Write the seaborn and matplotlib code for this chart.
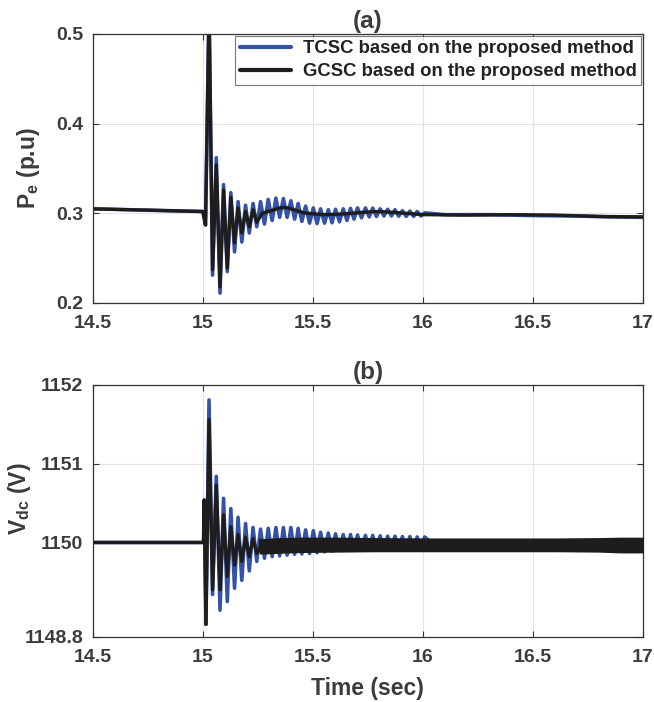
import numpy as np
import pandas as pd
import matplotlib
matplotlib.use("Agg")
import matplotlib.pyplot as plt
import seaborn as sns

# ---------------- data ----------------
# sampling instants of the electromechanical swing extrema (sec)
PEAK_T = [15.028, 15.061, 15.094, 15.127, 15.160, 15.194, 15.228, 15.262, 15.297, 15.332,
          15.366, 15.400, 15.433, 15.467, 15.502, 15.535, 15.570, 15.603, 15.638, 15.671,
          15.703, 15.739, 15.772, 15.806, 15.840, 15.873, 15.907, 15.941, 15.974, 16.008]
TROUGH_T = [15.044, 15.078, 15.111, 15.144, 15.177, 15.211, 15.245, 15.280, 15.315, 15.349,
            15.383, 15.417, 15.450, 15.485, 15.519, 15.553, 15.587, 15.621, 15.655, 15.687,
            15.721, 15.756, 15.789, 15.823, 15.857, 15.890, 15.924, 15.958, 15.991]

# (a) electrical power, p.u.
PRE_T = [14.5, 15.0, 15.012]
PE_PRE = [0.305, 0.302, 0.287]

PE_TCSC_PEAK = [0.53, 0.362, 0.332, 0.323, 0.313, 0.309, 0.311, 0.313, 0.3155, 0.317,
                0.3165, 0.314, 0.311, 0.308, 0.306, 0.305, 0.304, 0.3045, 0.305, 0.3055,
                0.306, 0.306, 0.3058, 0.305, 0.3045, 0.304, 0.303, 0.3025, 0.302, 0.3005]
PE_TCSC_TROUGH = [0.231, 0.211, 0.235, 0.257, 0.268, 0.278, 0.285, 0.288, 0.292, 0.2955,
                  0.2955, 0.2935, 0.291, 0.289, 0.2885, 0.289, 0.2895, 0.2905, 0.292, 0.2935,
                  0.295, 0.296, 0.2965, 0.297, 0.297, 0.2968, 0.2965, 0.2965, 0.297]
PE_TCSC_TAIL_T = [16.1, 16.3, 16.5, 16.7, 16.85, 17.0]
PE_TCSC_TAIL = [0.2985, 0.2985, 0.2975, 0.297, 0.296, 0.2955]

PE_GCSC_PEAK = [0.53, 0.354, 0.326, 0.318, 0.306, 0.302, 0.304]
PE_GCSC_TROUGH = [0.237, 0.218, 0.239, 0.267, 0.278, 0.285, 0.290]
PE_GCSC_TAIL_T = [15.27, 15.31, 15.35, 15.38, 15.42, 15.46, 15.5, 15.55, 15.6, 15.65,
                  15.7, 15.75, 15.8, 15.9, 16.0, 16.2, 16.4, 16.6, 16.8, 17.0]
PE_GCSC_TAIL = [0.300, 0.303, 0.306, 0.3065, 0.3035, 0.3005, 0.2995, 0.2985, 0.2988, 0.2995,
                0.3005, 0.3015, 0.302, 0.3005, 0.2985, 0.298, 0.2985, 0.298, 0.2965, 0.296]

# (b) dc-link voltage, V
VDC_PRE_T = [14.5, 15.0, 15.003, 15.006, 15.014]
VDC_PRE = [1150.0, 1150.0, 1150.0, 1150.54, 1148.96]

VDC_TCSC_PEAK = [1151.81, 1150.84, 1150.56, 1150.43, 1150.32, 1150.24, 1150.19, 1150.17,
                 1150.18, 1150.19, 1150.19, 1150.19, 1150.18, 1150.16, 1150.15, 1150.13,
                 1150.12, 1150.11, 1150.10, 1150.10, 1150.095, 1150.09, 1150.09, 1150.085,
                 1150.08, 1150.08, 1150.075, 1150.075, 1150.07, 1150.07]
VDC_TCSC_TROUGH = [1149.34, 1149.14, 1149.25, 1149.42, 1149.52, 1149.64, 1149.76, 1149.80,
                   1149.82, 1149.83, 1149.84, 1149.85, 1149.855, 1149.86, 1149.87, 1149.88,
                   1149.89, 1149.90, 1149.905, 1149.91, 1149.91, 1149.915, 1149.92, 1149.92,
                   1149.92, 1149.92, 1149.925, 1149.925, 1149.93]
VDC_TCSC_TAIL_T = [16.05, 17.0]
VDC_TCSC_TAIL = [1149.97, 1149.97]

VDC_GCSC_PEAK = [1151.56, 1150.73, 1150.35, 1150.20, 1150.10, 1150.07, 1150.05, 1150.03]
VDC_GCSC_TROUGH = [1149.40, 1149.40, 1149.57, 1149.71, 1149.76, 1149.82, 1149.86]
# ripple band of the GCSC voltage after the transient
BAND_T = [15.262, 15.35, 15.45, 15.6, 15.8, 16.0, 16.3, 16.6, 16.8, 16.9, 17.0]
BAND_HI = [1150.03, 1150.045, 1150.05, 1150.05, 1150.045, 1150.04, 1150.04, 1150.04,
           1150.045, 1150.05, 1150.05]
BAND_LO = [1149.87, 1149.88, 1149.89, 1149.895, 1149.90, 1149.90, 1149.90, 1149.90,
           1149.895, 1149.885, 1149.885]

LABELS = ["TCSC based on the proposed method", "GCSC based on the proposed method"]
X_TICKS = [14.5, 15, 15.5, 16, 16.5, 17]
X_TICKLABELS = ["14.5", "15", "15.5", "16", "16.5", "17"]
PE_TICKS = [0.2, 0.3, 0.4, 0.5]
PE_TICKLABELS = ["0.2", "0.3", "0.4", "0.5"]
VDC_TICKS = [1148.8, 1150, 1151, 1152]
VDC_TICKLABELS = ["1148.8", "1150", "1151", "1152"]


def extrema(peaks, troughs):
    t = list(PEAK_T[:len(peaks)]) + list(TROUGH_T[:len(troughs)])
    v = list(peaks) + list(troughs)
    return t, v


def series(pre_t, pre_v, peaks, troughs, tail_t, tail_v, name):
    et, ev = extrema(peaks, troughs)
    t = list(pre_t) + et + list(tail_t)
    v = list(pre_v) + ev + list(tail_v)
    return pd.DataFrame({"t": t, "v": v, "case": name}).sort_values("t")


# ---------------- style ----------------
sns.set_theme(style="ticks")
plt.rcParams["font.family"] = ["Liberation Sans", "DejaVu Sans"]
plt.rcParams["font.weight"] = "bold"
plt.rcParams["mathtext.fontset"] = "custom"
plt.rcParams["mathtext.bf"] = "Liberation Sans:bold"
plt.rcParams["mathtext.rm"] = "Liberation Sans:bold"

TXT = "#3c3c3c"
BLUE = "#3352a8"
BLACK = "#1e1c1c"
FS_TICK = 14
FS_LABEL = 16.5
FS_TITLE = 17.5

fig = plt.figure(figsize=(6.54, 7.02), dpi=100)
ax1 = fig.add_axes([0.142, 0.5684, 0.841, 0.3832])
ax2 = fig.add_axes([0.142, 0.0926, 0.841, 0.3590])

# ---------------- (a) ----------------
pe_tcsc = series(PRE_T, PE_PRE, PE_TCSC_PEAK, PE_TCSC_TROUGH, PE_TCSC_TAIL_T, PE_TCSC_TAIL, LABELS[0])
pe_gcsc = series(PRE_T, PE_PRE, PE_GCSC_PEAK, PE_GCSC_TROUGH, PE_GCSC_TAIL_T, PE_GCSC_TAIL, LABELS[1])
sns.lineplot(data=pe_tcsc, x="t", y="v", color=BLUE, lw=2.6, estimator=None, ax=ax1, label=LABELS[0])
sns.lineplot(data=pe_gcsc, x="t", y="v", color=BLACK, lw=2.4, estimator=None, ax=ax1, label=LABELS[1])
ax1.set_ylim(0.2, 0.5)
ax1.set_yticks(PE_TICKS)
ax1.set_yticklabels(PE_TICKLABELS)
ax1.set_ylabel(r"$\mathbf{P_e}$ (p.u)", fontsize=FS_LABEL, color=TXT, fontweight="bold")
ax1.yaxis.set_label_coords(-0.092, 0.5)
ax1.set_title("(a)", fontsize=FS_TITLE, color=TXT, fontweight="bold", pad=4)
leg = ax1.legend(loc="upper right", fontsize=13.3, frameon=True, fancybox=False,
                 borderpad=0.25, handlelength=2.8, handletextpad=0.6, labelspacing=0.3,
                 borderaxespad=0.1)
leg.get_frame().set_edgecolor("#555555")
leg.get_frame().set_linewidth(0.8)
for t in leg.get_texts():
    t.set_color("#222222")
    t.set_fontweight("bold")
for h in leg.get_lines():
    h.set_linewidth(3.0)

# ---------------- (b) ----------------
vdc_tcsc = series(VDC_PRE_T, VDC_PRE, VDC_TCSC_PEAK, VDC_TCSC_TROUGH, VDC_TCSC_TAIL_T, VDC_TCSC_TAIL, LABELS[0])
vdc_gcsc = series(VDC_PRE_T, VDC_PRE, VDC_GCSC_PEAK, VDC_GCSC_TROUGH,
                  [BAND_T[0]], [0.5 * (BAND_HI[0] + BAND_LO[0])], LABELS[1])
sns.lineplot(data=vdc_tcsc, x="t", y="v", color=BLUE, lw=2.6, estimator=None, ax=ax2, legend=False)
sns.lineplot(data=vdc_gcsc, x="t", y="v", color=BLACK, lw=2.4, estimator=None, ax=ax2, legend=False)
ax2.fill_between(BAND_T, BAND_LO, BAND_HI, color=BLACK, lw=2.0, edgecolor=BLACK, zorder=3)
ax2.set_ylim(1148.8, 1152)
ax2.set_yticks(VDC_TICKS)
ax2.set_yticklabels(VDC_TICKLABELS)
ax2.set_ylabel(r"$\mathbf{V_{dc}}$ (V)", fontsize=FS_LABEL, color=TXT, fontweight="bold")
ax2.yaxis.set_label_coords(-0.108, 0.55)
ax2.set_title("(b)", fontsize=FS_TITLE, color=TXT, fontweight="bold", pad=4)
ax2.set_xlabel("Time (sec)", fontsize=FS_LABEL, color=TXT, fontweight="bold", labelpad=8)

for ax in (ax1, ax2):
    ax.set_xlim(14.5, 17)
    ax.set_xticks(X_TICKS)
    ax.set_xticklabels(X_TICKLABELS)
    if ax is ax1:
        ax.set_xlabel("")
    ax.grid(True, color="#e3e3e3", lw=0.8)
    ax.set_axisbelow(True)
    ax.tick_params(direction="in", length=4, width=0.8, colors="#333333",
                   labelsize=FS_TICK, labelcolor=TXT, top=True, right=True)
    ax.tick_params(axis="x", pad=8.5)
    ax.tick_params(axis="y", pad=7)
    for lbl in ax.get_xticklabels() + ax.get_yticklabels():
        lbl.set_fontweight("bold")
    for s in ax.spines.values():
        s.set_visible(True)
        s.set_color("#333333")
        s.set_linewidth(0.9)

fig.savefig("out.png", dpi=100)
